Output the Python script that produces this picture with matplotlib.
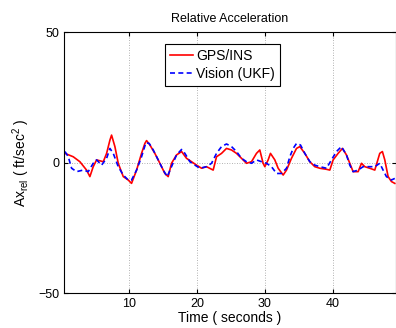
import matplotlib
matplotlib.use("Agg")
from matplotlib import pyplot as plt

plt.rcParams['font.family'] = ['Liberation Sans', 'DejaVu Sans']
plt.rcParams['mathtext.default'] = 'regular'

# GPS/INS reference (red)
t_gps = [0.59, 1.81, 2.79, 3.77, 4.26, 4.75, 5.25, 6.23, 6.72, 7.21, 7.45, 7.94,
         8.43, 9.17, 9.9, 10.39, 11.13, 11.86, 12.35, 12.6, 13.09, 13.82, 14.56,
         15.29, 15.78, 16.27, 17.01, 17.75, 18.48, 19.22, 19.95, 20.69, 21.42,
         22.4, 22.89, 23.63, 24.36, 25.1, 25.83, 26.57, 27.3, 28.04, 28.77,
         29.26, 29.75, 30.0, 30.49, 30.83, 31.47, 31.96, 32.7, 33.19, 33.92,
         34.66, 35.15, 35.88, 36.62, 37.35, 38.09, 39.07, 39.56, 40.05, 40.78,
         41.42, 42.01, 42.5, 42.99, 43.73, 44.22, 44.71, 45.44, 46.18, 46.91,
         47.3, 47.65, 48.14, 48.63, 49.12]
a_gps = [3.5, 2.2, 0.3, -2.9, -5.4, -1.6, 1.0, 0.3, 3.5, 8.6, 10.5, 6.1,
         -0.3, -5.4, -6.7, -8.0, -2.9, 3.5, 7.3, 8.4, 6.7, 3.5, -0.3,
         -4.2, -5.4, -0.3, 2.9, 4.2, 1.6, 0.3, -1.0, -2.2, -1.6,
         -2.9, 2.2, 3.5, 5.4, 4.8, 3.5, 1.6, -0.3, 0.3, 3.5,
         4.8, -0.3, -1.6, 1.0, 3.5, 1.0, -2.2, -4.8, -2.9, 1.6,
         5.4, 6.1, 3.5, 0.3, -1.6, -2.2, -2.6, -2.9, 1.0, 3.5,
         5.4, 2.9, -0.3, -3.5, -3.5, -0.3, -1.6, -2.2, -2.9, 3.5,
         4.2, 1.0, -5.4, -7.3, -8.0]

# Vision (UKF) estimate (blue)
t_vis = [0.59, 1.08, 1.57, 2.3, 3.28, 4.02, 4.75, 5.25, 5.98, 6.72, 7.21, 7.7,
         8.43, 9.17, 9.9, 10.39, 11.13, 11.86, 12.5, 12.99, 13.58, 14.31,
         15.05, 15.64, 16.27, 17.01, 17.75, 18.24, 18.97, 19.71, 20.44, 21.42,
         22.16, 22.89, 23.63, 24.36, 25.1, 25.83, 26.57, 27.3, 28.04, 28.77,
         29.51, 30.25, 30.98, 31.72, 32.45, 33.19, 33.68, 34.17, 34.66, 35.25,
         35.88, 36.62, 37.35, 38.09, 39.07, 39.8, 40.54, 41.27, 42.01, 42.5,
         42.99, 43.73, 44.46, 45.2, 46.18, 46.91, 47.4, 47.89, 48.63, 49.12]
a_vis = [4.2, 2.2, -2.2, -3.5, -2.9, -3.5, -0.3, 1.0, -1.0, 1.6, 5.4, 3.5,
         -1.6, -4.8, -6.7, -6.7, -2.9, 2.2, 7.6, 7.3, 4.8, 1.0,
         -2.9, -5.4, -1.6, 2.9, 5.0, 3.5, 0.3, -1.0, -2.2, -1.6,
         -0.3, 3.5, 6.1, 7.1, 6.1, 4.2, 1.6, 0.3, -0.3, 1.0,
         0.3, -0.3, -1.6, -4.2, -4.2, -2.2, 2.2, 5.4, 7.3, 6.7,
         3.5, 0.3, -1.0, -1.6, -2.2, 1.0, 4.2, 6.1, 2.9, -1.0,
         -3.5, -2.9, -1.6, -1.6, -1.6, -0.3, -2.9, -5.4, -6.7, -6.1]

fig = plt.figure(figsize=(3.96, 3.28), dpi=100)
ax = fig.add_axes([0.1616, 0.1067, 0.8384, 0.7957])

ax.plot(t_gps, a_gps, color='red', linewidth=1.2, label='GPS/INS')
ax.plot(t_vis, a_vis, color='blue', linestyle='--', dashes=(3, 2),
        linewidth=1.2, label='Vision (UKF)')

ax.set_xlim(0.45, 49.3)
ax.set_ylim(-50, 50)
ax.set_xticks([10, 20, 30, 40])
ax.set_yticks([-50, 0, 50])
ax.grid(True, linestyle=(0, (1, 2)), color='#999999', linewidth=0.6)
ax.tick_params(direction='in', top=True, right=True, labelsize=9, length=3)
for s in ax.spines.values():
    s.set_linewidth(0.8)

ax.set_title('Relative Acceleration', fontsize=9, pad=7)
ax.set_xlabel('Time ( seconds )', fontsize=10, labelpad=1)
ax.set_ylabel('Ax$_{rel}$ ( ft/sec$^2$ )', fontsize=10, labelpad=4)

leg = ax.legend(loc='upper center', bbox_to_anchor=(0.477, 0.955), fontsize=10,
                frameon=True, fancybox=False, edgecolor='black',
                handlelength=1.7, handletextpad=0.2, borderpad=0.35,
                labelspacing=0.3, borderaxespad=0.0, framealpha=1)
leg.get_frame().set_linewidth(0.8)

fig.savefig('out.png', dpi=100)
